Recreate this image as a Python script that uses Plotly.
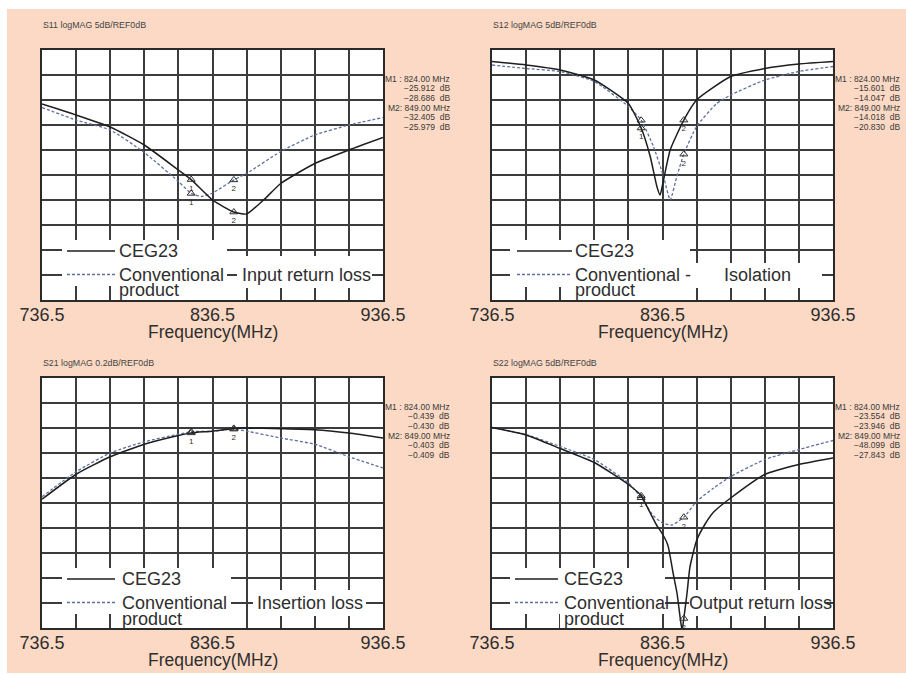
import plotly.graph_objects as go

# ---------------- data ----------------
# S11 input return loss
S11_CEG_F = [736.5, 756.5, 776.5, 796.5, 816.5, 824, 836.5, 849, 856.5, 866.5, 876.5, 896.5, 916.5, 936.5]
S11_CEG_DB = [-10.8, -13.0, -15.4, -19.0, -24.0, -25.912, -30.0, -32.405, -32.8, -30.0, -26.7, -22.7, -20.0, -17.5]
S11_CONV_F = [736.5, 756.5, 776.5, 796.5, 816.5, 824, 830, 836.5, 849, 856.5, 876.5, 896.5, 916.5, 936.5]
S11_CONV_DB = [-11.5, -14.0, -16.0, -20.5, -26.3, -28.686, -29.3, -28.6, -25.979, -24.7, -20.3, -17.0, -15.0, -13.5]

# S12 isolation
S12_CEG_F = [736.5, 756.5, 776.5, 796.5, 816.5, 824, 829.3, 833.2, 835.1, 837.1, 841, 849, 856.5, 876.5, 896.5, 916.5, 936.5]
S12_CEG_DB = [-2.3, -3.0, -4.0, -6.0, -10.7, -15.601, -21.3, -27.3, -29.0, -26.0, -20.0, -14.018, -10.0, -5.3, -3.7, -2.8, -2.3]
S12_CONV_F = [736.5, 756.5, 776.5, 796.5, 816.5, 824, 831.2, 837.1, 841, 844.9, 849, 856.5, 868.3, 876.5, 896.5, 916.5, 936.5]
S12_CONV_DB = [-3.0, -3.7, -4.3, -6.3, -11.3, -14.047, -19.3, -25.3, -30.0, -25.3, -20.830, -15.3, -10.7, -9.0, -6.0, -4.3, -3.3]

# S21 insertion loss
S21_CEG_F = [736.5, 756.5, 776.5, 796.5, 816.5, 824, 836.5, 849, 856.5, 876.5, 896.5, 916.5, 936.5]
S21_CEG_DB = [-0.97, -0.77, -0.63, -0.53, -0.46, -0.439, -0.425, -0.403, -0.40, -0.405, -0.413, -0.44, -0.48]
S21_CONV_F = [736.5, 756.5, 776.5, 796.5, 816.5, 824, 836.5, 849, 856.5, 876.5, 896.5, 916.5, 936.5]
S21_CONV_DB = [-0.95, -0.75, -0.60, -0.51, -0.45, -0.430, -0.425, -0.409, -0.425, -0.48, -0.53, -0.63, -0.72]

# S22 output return loss
S22_CEG_F = [736.5, 756.5, 776.5, 796.5, 816.5, 824, 829, 833, 836.5, 839.7, 842.7, 845, 846.8, 848, 849,
             850.9, 852.6, 856.5, 861.5, 866.5, 876.5, 896.5, 916.5, 936.5]
S22_CEG_DB = [-9.9, -11.4, -14.1, -16.9, -21.3, -23.554, -26.8, -29.4, -31.2, -33.5, -39.0, -43.0, -47.8, -50.5, -48.099,
              -43.0, -37.8, -32.5, -29.2, -26.8, -24.0, -19.3, -17.3, -16.0]
S22_CONV_F = [736.5, 756.5, 776.5, 796.5, 816.5, 824, 831, 836.5, 842, 849, 856.5, 866.5, 876.5, 896.5, 916.5, 936.5]
S22_CONV_DB = [-9.9, -11.3, -13.7, -16.3, -21.0, -23.946, -27.5, -29.0, -29.4, -27.843, -24.7, -22.0, -19.7, -16.3, -14.3, -12.5]

MARKER_F = [824, 849]
MARKER_LABELS = ["1", "2"]

X_TICK_VALUES = [736.5, 836.5, 936.5]
X_TICK_LABELS = ["736.5", "836.5", "936.5"]

TITLES = ["S11 logMAG 5dB/REF0dB", "S12 logMAG 5dB/REF0dB",
          "S21 logMAG 0.2dB/REF0dB", "S22 logMAG 5dB/REF0dB"]
CAPTIONS = ["Input return loss", "Isolation", "Insertion loss", "Output return loss"]
CONV_TEXT = ["Conventional", "Conventional -", "Conventional", "Conventional"]
READOUTS = [
    ["M1 : 824.00 MHz", "\u221225.912  dB", "\u221228.686  dB", "M2: 849.00 MHz", "\u221232.405  dB", "\u221225.979  dB"],
    ["M1 : 824.00 MHz", "\u221215.601  dB", "\u221214.047  dB", "M2: 849.00 MHz", "\u221214.018  dB", "\u221220.830  dB"],
    ["M1 : 824.00 MHz", "\u22120.439  dB", "\u22120.430  dB", "M2: 849.00 MHz", "\u22120.403  dB", "\u22120.409  dB"],
    ["M1 : 824.00 MHz", "\u221223.554  dB", "\u221223.946  dB", "M2: 849.00 MHz", "\u221248.099  dB", "\u221227.843  dB"],
]

# ---------------- style / geometry ----------------
W, H = 906, 675
PEACH = "#FBD9C4"
INK = "#2e2e2e"
GRID = "#3c3c3c"
BLUE = "#5D6F9E"
FONT = "Liberation Sans, Arial, sans-serif"


def fx(px):
    return px / W


def fy(py):
    return 1 - py / H


panels = [
    dict(L=42, R=383, T=50, B=300, yr=[-50, 0], dy=5,
         data=[(S11_CEG_F, S11_CEG_DB), (S11_CONV_F, S11_CONV_DB)],
         samp=(25, 73), txt=75, cap=198, title_dy=-25,
         boxes=[(62, 227, 240, 286), (115, 232, 284, 300), (237, 372, 256, 288)]),
    dict(L=492, R=833, T=50, B=300, yr=[-50, 0], dy=5,
         data=[(S12_CEG_F, S12_CEG_DB), (S12_CONV_F, S12_CONV_DB)],
         samp=(25, 80), txt=81, cap=230, title_dy=-25,
         boxes=[(510, 690, 240, 287), (568, 690, 284, 300), (690, 822, 263, 288)]),
    dict(L=42, R=383, T=378, B=628, yr=[-2, 0], dy=0.2,
         data=[(S21_CEG_F, S21_CEG_DB), (S21_CONV_F, S21_CONV_DB)],
         samp=(25, 73), txt=78, cap=213, title_dy=-15,
         boxes=[(62, 231, 568, 614), (118, 231, 612, 628), (253, 366, 590, 616)]),
    dict(L=492, R=833, T=378, B=628, yr=[-50, 0], dy=5,
         data=[(S22_CEG_F, S22_CEG_DB), (S22_CONV_F, S22_CONV_DB)],
         samp=(23, 66), txt=70, cap=195, title_dy=-15,
         boxes=[(510, 665, 568, 614), (560, 662, 612, 628), (689, 825, 590, 616)]),
]

fig = go.Figure()
shapes = []
annotations = []
layout_axes = {}

for i, p in enumerate(panels):
    k = i + 1
    xa = "x" if k == 1 else f"x{k}"
    ya = "y" if k == 1 else f"y{k}"
    L, R, T, B = p["L"], p["R"], p["T"], p["B"]
    span = p["yr"][1] - p["yr"][0]

    (fc, dc), (fv, dv) = p["data"]
    fig.add_trace(go.Scatter(x=fv, y=dv, mode="lines", xaxis=xa, yaxis=ya, showlegend=False,
                             line=dict(color=BLUE, width=1.3, dash="3px,2px", shape="spline", smoothing=0.5),
                             hoverinfo="skip"))
    fig.add_trace(go.Scatter(x=fc, y=dc, mode="lines", xaxis=xa, yaxis=ya, showlegend=False,
                             line=dict(color="#1e1e1e", width=1.5, shape="spline", smoothing=0.5),
                             hoverinfo="skip"))
    # marker triangles at M1 / M2 (digit drawn once when both markers coincide)
    ys_c = [dc[fc.index(m)] for m in MARKER_F]
    ys_v = [dv[fv.index(m)] for m in MARKER_F]
    labels_v = [lab if abs(a - b) / span > 0.02 else "" for lab, a, b in zip(MARKER_LABELS, ys_c, ys_v)]
    for ys, labs in ((ys_c, MARKER_LABELS), (ys_v, labels_v)):
        fig.add_trace(go.Scatter(x=MARKER_F, y=ys, mode="markers+text", xaxis=xa, yaxis=ya,
                                 showlegend=False, hoverinfo="skip",
                                 marker=dict(symbol="triangle-up-open", size=7,
                                             color=INK, line=dict(width=1, color=INK)),
                                 text=labs, textposition="bottom center",
                                 textfont=dict(size=8, color=INK, family=FONT)))

    layout_axes["xaxis" if k == 1 else f"xaxis{k}"] = dict(
        domain=[fx(L), fx(R)], range=[736.5, 936.5], anchor=ya,
        tickmode="array", tickvals=X_TICK_VALUES, ticktext=X_TICK_LABELS,
        ticks="", ticklabelstandoff=-3, tickfont=dict(size=18, color=INK, family=FONT),
        showgrid=True, gridcolor=GRID, gridwidth=1.6,
        minor=dict(dtick=20, tick0=736.5, showgrid=True, gridcolor=GRID, gridwidth=1.6),
        showline=True, mirror=True, linecolor="#2a2a2a", linewidth=2,
        zeroline=False, fixedrange=True, automargin=False)
    layout_axes["yaxis" if k == 1 else f"yaxis{k}"] = dict(
        domain=[fy(B), fy(T)], range=p["yr"], anchor=xa, dtick=p["dy"], tick0=0,
        showticklabels=False, ticks="",
        showgrid=True, gridcolor=GRID, gridwidth=1.6,
        showline=True, mirror=True, linecolor="#2a2a2a", linewidth=2,
        zeroline=False, fixedrange=True, automargin=False)

    # white areas behind the legend texts (hide the grid)
    for (x0, x1, y0, y1) in p["boxes"]:
        shapes.append(dict(type="rect", xref="paper", yref="paper", layer="above",
                           x0=fx(x0), x1=fx(x1), y0=fy(y1), y1=fy(y0),
                           fillcolor="white", line=dict(width=0)))

    # legend sample lines
    s0, s1 = p["samp"]
    shapes.append(dict(type="line", xref="paper", yref="paper", layer="above",
                       x0=fx(L + s0), x1=fx(L + s1), y0=fy(B - 49), y1=fy(B - 49),
                       line=dict(color="#1e1e1e", width=1.6)))
    shapes.append(dict(type="line", xref="paper", yref="paper", layer="above",
                       x0=fx(L + s0), x1=fx(L + s1), y0=fy(B - 25.5), y1=fy(B - 25.5),
                       line=dict(color=BLUE, width=1.3, dash="3px,2px")))

    def txt(x, y, s, size=18, xanchor="left", color=INK):
        annotations.append(dict(xref="paper", yref="paper", x=fx(x), y=fy(y), text=s,
                                showarrow=False, xanchor=xanchor, yanchor="middle",
                                font=dict(size=size, color=color, family=FONT)))

    txt(L + p["txt"], B - 49, "CEG23")
    txt(L + p["txt"], B - 25.5, CONV_TEXT[i])
    txt(L + p["txt"], B - 9.5, "product")
    txt(L + p["cap"], B - 25.5, CAPTIONS[i])
    # axis title
    txt((L + R) / 2, B + 32, "Frequency(MHz)", size=17.5, xanchor="center")
    # panel title
    txt(L - 1, T + p["title_dy"], TITLES[i], size=8.8, color="#444444")
    # marker readouts
    for j, line in enumerate(READOUTS[i]):
        txt(R + 69, T + 28.5 + 9.7 * j, line, size=8.5, xanchor="right", color="#3a3a3a")

# thin white border of the original picture (top, left, bottom)
for (x0, x1, y0, y1) in [(0, W, 0, 9), (0, 7, 0, H), (0, W, 673, H)]:
    shapes.append(dict(type="rect", xref="paper", yref="paper", layer="above",
                       x0=fx(x0), x1=fx(x1), y0=fy(y1), y1=fy(y0),
                       fillcolor="white", line=dict(width=0)))

fig.update_layout(
    width=W, height=H, autosize=False,
    margin=dict(l=0, r=0, t=0, b=0),
    paper_bgcolor=PEACH, plot_bgcolor="white",
    shapes=shapes, annotations=annotations,
    font=dict(family=FONT, color=INK),
    **layout_axes,
)

fig.write_html("out.html",
               config={"displayModeBar": False, "responsive": False},
               post_script="document.body.style.margin='0';"
                           "document.documentElement.style.overflow='hidden';"
                           "document.body.style.overflow='hidden';")
